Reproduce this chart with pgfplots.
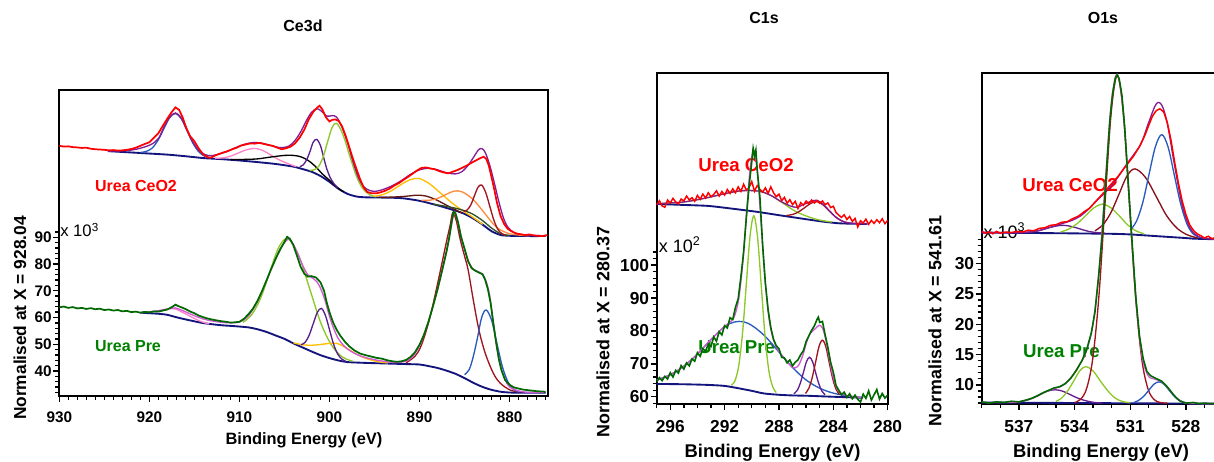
\documentclass[border=0pt]{standalone}
\usepackage{pgfplots}
\pgfplotsset{compat=1.18}
\usepackage{fontspec}
\setmainfont{Liberation Sans}
\setsansfont{Liberation Sans}
\definecolor{cRed}{RGB}{255,0,0}
\definecolor{cNavy}{RGB}{20,20,125}
\definecolor{cPurp}{RGB}{130,30,150}
\definecolor{cMag}{RGB}{210,90,210}
\definecolor{cDG}{RGB}{0,105,0}
\definecolor{cLbl}{RGB}{0,128,0}
\definecolor{cBlue}{RGB}{40,90,190}
\definecolor{cPink}{RGB}{255,130,200}
\definecolor{cIndigo}{RGB}{90,30,140}
\definecolor{cYG}{RGB}{140,200,40}
\definecolor{cGold}{RGB}{255,190,0}
\definecolor{cOrange}{RGB}{255,140,60}
\definecolor{cBrown}{RGB}{160,20,30}
\definecolor{cDBrown}{RGB}{100,25,20}
\definecolor{cOlive}{RGB}{50,80,40}
\pgfplotsset{
 xps/.style={
  scale only axis, x dir=reverse, clip=true,
  axis line style={line width=1.4pt, black},
  tick style={line width=1pt, black},
  tick align=outside, xtick pos=left, ytick pos=left,
  major tick length=4.5pt, minor tick length=3pt,
  /pgf/number format/assume math mode=true,
  /pgf/number format/1000 sep={},
  xticklabel style={yshift=-4pt},
  yticklabel style={inner xsep=1pt},
  every axis plot/.append style={line width=1pt, mark=none},
 },
 comp/.style={smooth, tension=0.55, line width=1pt},
 raw/.style={line width=1.3pt},
 bg/.style={smooth, tension=0.4, line width=1.4pt, cNavy},
}
\begin{document}
\begin{tikzpicture}
\useasboundingbox (0,0) rectangle (910.5pt,345.75pt);
% ---- text nodes (drawn first, curves above) ----
\node[font=\fontsize{12}{14}\selectfont\bfseries] at (227.25pt,326.25pt) {Ce3d};
\node[font=\fontsize{12}{14}\selectfont\bfseries] at (573pt,332.25pt) {C1s};
\node[font=\fontsize{12}{14}\selectfont\bfseries] at (827.25pt,332.25pt) {O1s};
\node[font=\fontsize{12.3}{14}\selectfont\bfseries] at (228pt,15.75pt) {Binding Energy (eV)};
\node[font=\fontsize{13}{15}\selectfont\bfseries,rotate=90] at (15pt,107.25pt) {Normalised at X = 928.04};
\node[font=\fontsize{13.8}{15}\selectfont\bfseries] at (579.45pt,6pt) {Binding Energy (eV)};
\node[font=\fontsize{13.4}{15}\selectfont\bfseries,rotate=90] at (452.25pt,96.75pt) {Normalised at X = 280.37};
\node[font=\fontsize{13.8}{15}\selectfont\bfseries] at (825.75pt,6pt) {Binding Energy (eV)};
\node[font=\fontsize{13.4}{15}\selectfont\bfseries,rotate=90] at (701.25pt,105pt) {Normalised at X = 541.61};
\node[font=\fontsize{12}{14}\selectfont\bfseries,text=cRed] at (102pt,206.25pt) {Urea CeO2};
\node[font=\fontsize{12}{14}\selectfont\bfseries,text=cLbl] at (96pt,86.25pt) {Urea Pre};
\node[font=\fontsize{14}{16}\selectfont\bfseries,text=cRed] at (559.5pt,222pt) {Urea CeO2};
\node[font=\fontsize{14}{16}\selectfont\bfseries,text=cLbl] at (552.5pt,85.7pt) {Urea Pre};
\node[font=\fontsize{14}{16}\selectfont\bfseries,text=cRed] at (802.5pt,207pt) {Urea CeO2};
\node[font=\fontsize{14}{16}\selectfont\bfseries,text=cLbl] at (796.1pt,82pt) {Urea Pre};
\node[font=\fontsize{12.5}{14}\selectfont,anchor=west,inner sep=0pt] at (45pt,173.25pt) {x 10\textsuperscript{3}};
\node[font=\fontsize{13.5}{15}\selectfont,anchor=west,inner sep=0pt] at (494pt,162pt) {x 10\textsuperscript{2}};
\node[font=\fontsize{13.5}{15}\selectfont,anchor=west,inner sep=0pt] at (737.5pt,172.7pt) {x 10\textsuperscript{3}};

% ================= Ce3d =================
\begin{axis}[xps, at={(44.475pt,48.75pt)}, anchor=south west,
  width=366.75pt, height=229.5pt,
  xmin=875.7, xmax=930, ymin=30.6, ymax=145.2,
  xtick={880,890,900,910,920,930}, minor xtick={876,877,...,930},
  ytick={40,50,60,70,80,90}, minor ytick={32,34,...,92},
  ticklabel style={font=\fontsize{11.5}{13}\selectfont\bfseries}]
% upper background
\addplot[bg] coordinates {(924.6,122.3)(922,121.8)(920,121.4)(918,121.0)(916,120.4)(914,119.7)(912,119.3)(910,118.8)(908,118.2)(906,117.5)(904,116.5)(903,115.6)(902,114.6)(901,113.0)(900,110.8)(899,108.2)(898,106.3)(897,105.3)(896,105.0)(894,104.9)(892,104.7)(890,103.7)(888,102.0)(886,100.0)(885,98.8)(884,97.0)(883,94.8)(882,92.3)(881,90.9)(880,90.6)(878,90.5)(876,90.5)};
\addplot[comp,cBlue] coordinates {(921.0,121.8)(920.35,122.2)(919.7,123.4)(919.05,126.3)(918.4,130.6)(917.75,134.8)(917.1,136.4)(916.45,134.4)(915.8,129.8)(915.15,125.2)(914.5,122.0)(913.85,120.4)(913.2,119.8)};
\addplot[comp,cPink] coordinates {(912.7,119.6)(911.8,119.8)(910.9,120.5)(910.0,121.8)(909.1,122.9)(908.2,123.3)(907.3,122.4)(906.4,120.6)(905.5,118.9)(904.6,117.6)(903.7,116.5)};
\addplot[comp,black] coordinates {(911,119.2)(909.5,119.2)(908,119.4)(906.5,120.1)(905,120.7)(904,120.7)(903.2,120.2)(902.4,118.9)(901.6,116.7)(900.8,113.8)(900,111.4)(899.2,108.9)(898.4,107.0)};
\addplot[comp,cIndigo] coordinates {(903.3,116.5)(902.9,117.2)(902.5,119.3)(902.15,122.3)(901.8,125.7)(901.4,126.7)(901.0,124.4)(900.65,120.0)(900.3,115.7)(899.9,112.3)(899.5,110.1)(899.1,108.6)};
\addplot[comp,cYG] coordinates {(902.2,115.1)(901.7,115.3)(901.2,116.6)(900.7,120.1)(900.2,125.9)(899.7,131.2)(899.2,132.7)(898.5,128.5)(897.75,120.5)(897.0,112.9)(896.3,108.3)(895.5,105.9)(894.8,105.2)};
\addplot[comp,cGold] coordinates {(895.1,105.4)(894.1,106.0)(893.1,107.5)(892.1,109.7)(891.1,111.5)(890.1,112.1)(888.9,110.1)(887.7,106.7)(886.5,103.2)(885.3,100.2)(884.1,97.6)(883.0,94.9)};
\addplot[comp,cDBrown] coordinates {(894.5,105.0)(893,105.1)(891.5,105.4)(890.3,105.8)(889.3,105.5)(888.3,104.3)(887.3,102.6)(886.3,100.8)(885.3,99.2)};
\addplot[comp,cOrange] coordinates {(889.8,103.9)(888.9,103.9)(888.0,104.6)(887.1,106.0)(886.2,107.3)(885.3,107.1)(884.05,104.2)(882.8,99.2)(881.55,94.1)(880.3,91.7)(879.05,90.9)(877.8,90.6)};
\addplot[comp,cOlive] coordinates {(888.5,102.4)(887,101.6)(885.5,100.5)(884.2,98.9)(883,96.3)(882,93.5)(881,91.4)(880,90.7)};
\addplot[comp,cBrown] coordinates {(885.1,99.7)(884.7,100.3)(884.3,102.2)(883.9,105.6)(883.5,108.8)(883.1,109.6)(882.65,106.8)(882.2,101.7)(881.75,96.5)(881.3,93.0)(880.85,91.4)(880.4,90.7)};
\addplot[comp,cPurp] coordinates {(924.6,122.3)(922,122.7)(920,124.5)(919,127.0)(918.4,131.2)(917.75,135.0)(917.1,136.6)(916.45,134.7)(915.8,130.2)(915.15,125.6)(914.5,122.5)(913.8,121.0)(913.2,120.6)(912.5,121.0)(911.5,122.0)(910.5,123.5)(909.5,124.8)(908.5,125.5)(907.5,125.3)(906.5,124.4)(905.5,123.6)(904.5,124.2)(903.8,126.4)(903.2,129.5)(902.6,133.5)(902.0,136.8)(901.4,138.2)(900.9,137.3)(900.3,135.4)(899.7,135.6)(899.2,135.0)(898.6,131.2)(898.0,125.5)(897.4,118.5)(896.8,112.5)(896.2,109.0)(895.5,107.5)(894.8,107.3)(894,108.0)(893,109.4)(892,111.3)(891,113.6)(890,115.3)(889,115.9)(888,115.3)(887,114.2)(886,113.8)(885.3,114.6)(884.6,117.0)(884,120.0)(883.5,122.6)(883.1,123.3)(882.7,121.8)(882.2,117.0)(881.7,110.5)(881.2,103.5)(880.7,97.5)(880.2,93.9)(879.5,91.8)(878.5,91.0)(877,90.7)(876.2,90.6)};
\addplot[raw,cRed] coordinates {(930,124.3)(929.5,124.0)(929,124.1)(928.5,123.8)(928,123.7)(927.5,123.5)(927,123.6)(926.5,123.2)(926,123.0)(925.5,122.9)(925,122.8)(924.5,122.6)(924,122.7)(923.5,122.5)(923,122.6)(922.5,122.8)(922,123.1)(921.5,123.6)(921,124.3)(920.5,125.0)(920,125.6)(919.5,127.3)(919,129.0)(918.5,131.8)(918,134.5)(917.5,137.0)(917.1,138.7)(916.7,137.8)(916.3,134.9)(915.9,131.0)(915.5,128.0)(915,126.0)(914.5,123.2)(914,121.0)(913.5,120.0)(913.2,119.8)(912.8,120.5)(912.3,121.2)(911.8,121.8)(911.3,122.3)(910.8,123.0)(910.3,123.6)(909.8,124.4)(909.3,124.8)(908.8,125.2)(908.3,125.1)(907.8,125.4)(907.3,125.0)(906.8,124.6)(906.3,124.3)(905.8,123.6)(905.3,123.0)(904.8,123.4)(904.3,124.0)(903.8,125.3)(903.3,127.4)(902.8,130.3)(902.3,134.2)(901.8,137.0)(901.4,138.5)(901.1,139.3)(900.8,138.0)(900.4,135.0)(900.0,133.4)(899.7,134.0)(899.4,134.2)(899.0,133.7)(898.6,131.6)(898.2,128.0)(897.8,123.8)(897.4,119.5)(897.0,115.6)(896.6,111.8)(896.2,108.7)(895.8,107.0)(895.3,106.5)(894.8,106.5)(894.3,106.9)(893.8,107.5)(893.3,108.3)(892.8,109.4)(892.3,110.3)(891.8,111.5)(891.3,112.6)(890.8,113.8)(890.3,115.0)(889.8,116.0)(889.3,116.2)(888.8,115.8)(888.3,115.5)(887.8,114.8)(887.3,114.3)(886.8,114.0)(886.3,114.6)(885.8,115.2)(885.3,116.0)(884.8,116.8)(884.3,117.8)(883.8,118.7)(883.3,119.6)(882.9,120.2)(882.6,119.5)(882.3,116.8)(882.0,112.5)(881.7,108.0)(881.4,103.0)(881.0,98.0)(880.6,95.0)(880.2,93.2)(879.8,92.3)(879.3,91.5)(878.8,91.2)(878.3,90.9)(877.8,91.1)(877.3,90.7)(876.8,90.6)(876.3,90.5)(875.8,90.9)};
% lower
\addplot[bg] coordinates {(921,61.8)(919,61.4)(918,61.0)(917,60.1)(916,59.3)(914,57.9)(912,57.1)(910.7,56.8)(909,56.3)(908,55.6)(907,54.6)(906,53.3)(905,52.0)(904,50.3)(903,48.8)(902,47.3)(901,45.9)(900,44.8)(899,43.9)(898,43.3)(896,43.0)(894,42.8)(892,42.6)(890,42.4)(889,41.8)(888,41.1)(887,40.1)(886,38.9)(885,37.3)(884,35.5)(883,34.0)(882,32.9)(881,32.2)(880,31.9)(878,31.8)(876,31.8)};
\addplot[comp,cPink] coordinates {(920.85,61.9)(920.1,62.0)(919.35,62.3)(918.6,62.8)(917.85,63.3)(917.1,63.2)(916.35,62.0)(915.6,60.7)(914.85,59.4)(914.1,58.3)(913.35,57.6)};
\addplot[comp,cYG] coordinates {(909.6,58.2)(908.6,61.2)(907.6,67.6)(906.6,77.3)(905.6,86.5)(904.6,89.5)(903.4,83.1)(902.2,70.8)(901.0,58.3)(899.8,49.8)(898.6,45.3)(897.4,43.6)};
\addplot[comp,cGold] coordinates {(904,50.5)(903,49.8)(902,49.6)(901,49.9)(900,50.3)(899.2,50.3)(898.5,49.3)(897.5,47.3)(896.5,45.4)(895.5,44.2)(894.5,43.4)(893.5,43.0)};
\addplot[comp,cIndigo] coordinates {(903.15,49.8)(902.7,50.7)(902.25,53.4)(901.8,57.7)(901.35,61.9)(900.9,63.4)(900.45,60.8)(900.0,55.5)(899.55,50.1)(899.1,46.4)(898.65,44.5)(898.2,43.6)};
\addplot[comp,cBrown] coordinates {(891.5,43.0)(890.5,45.5)(889.9,48.8)(889.3,54.5)(888.7,62.0)(888.1,71.0)(887.5,80.5)(887.0,88.5)(886.6,94.5)(886.3,99.3)(885.9,96.0)(885.5,89.5)(885.0,83.0)(884.6,77.8)(884.0,66.0)(883.4,55.3)(882.7,46.6)(881.8,39.1)(881.0,35.3)(879.9,32.8)(878.8,32.1)};
\addplot[comp,cBlue] coordinates {(885.0,38.6)(884.5,40.4)(884.05,45.1)(883.55,52.6)(883.1,60.0)(882.6,62.8)(882.0,59.0)(881.4,50.2)(880.8,41.6)(880.2,36.0)(879.6,33.2)(879.0,32.1)};
\addplot[comp,cMag] coordinates {(921,61.8)(919.5,62.3)(918.5,62.8)(917.5,63.5)(917.1,63.6)(916.3,62.6)(915.5,61.4)(914.5,60.0)(913.5,59.0)(912,58.2)(911,58.0)(910,58.3)(909,60.6)(908,65.9)(907,73.7)(906,81.8)(905.5,85.6)(905,88.0)(904.6,89.3)(904.2,88.5)(903.6,84.5)(903,79.7)(902.4,76.0)(901.8,74.6)(901.4,73.4)(901,71.0)(900.5,66.5)(900,60.5)(899.5,55.6)(899,52.0)(898.5,49.8)(898,48.2)(897,46.2)(896,45.0)(895,44.2)(894,43.6)(893,43.2)(892,43.3)(891,44.6)(890,49.5)(889,58.5)(888,70.5)(887,84.6)(886.5,93.5)(886.2,98.6)(885.9,97.8)(885.5,92.2)(885,85.5)(884.5,80.5)(884,78.0)(883.5,77.2)(883,76.2)(882.6,73.5)(882.2,68.0)(881.8,58.0)(881.4,48.5)(881,41.5)(880.5,36.8)(880,34.0)(879,32.5)(878,32.0)(876.2,31.9)};
\addplot[raw,cDG] coordinates {(930,63.8)(929.5,64.1)(929,63.6)(928.5,63.9)(928,63.4)(927.5,63.6)(927,63.2)(926.5,63.5)(926,63.1)(925.5,63.3)(925,62.8)(924.5,63.0)(924,62.6)(923.5,62.8)(923,62.3)(922.5,62.5)(922,62.0)(921.5,62.2)(921,61.8)(920.5,62.1)(920,61.9)(919.5,62.3)(919,62.2)(918.5,62.6)(918,63.0)(917.5,63.9)(917.1,64.8)(916.8,64.3)(916.5,63.9)(916,63.2)(915.5,62.3)(915,61.6)(914.5,60.7)(914,60.1)(913.5,59.6)(913,59.2)(912.5,58.9)(912,58.6)(911.5,58.4)(911,58.1)(910.5,58.2)(910,58.4)(909.5,59.5)(909,61.2)(908.5,63.3)(908,66.2)(907.5,69.8)(907,73.8)(906.5,78.0)(906,81.8)(905.5,85.3)(905,88.3)(904.7,90.2)(904.4,89.5)(904,87.0)(903.6,83.0)(903.2,79.0)(902.8,76.4)(902.4,75.3)(902,75.5)(901.5,75.0)(901,73.2)(900.6,70.0)(900.3,65.6)(900,62.0)(899.6,58.2)(899.2,55.4)(898.8,53.2)(898.3,51.0)(897.8,49.2)(897.2,47.6)(896.6,46.5)(896,45.9)(895.4,45.4)(894.8,44.9)(894.2,44.6)(893.6,44.0)(893,43.6)(892.5,43.4)(892,43.6)(891.5,44.1)(891,45.2)(890.5,47.0)(890,49.8)(889.5,53.6)(889,58.5)(888.5,64.3)(888,70.5)(887.5,77.5)(887,84.8)(886.7,90.0)(886.4,96.5)(886.2,99.6)(886,99.0)(885.7,95.4)(885.4,90.3)(885,85.8)(884.6,81.0)(884.2,78.4)(883.8,77.5)(883.4,76.8)(883,76.2)(882.7,74.0)(882.4,70.5)(882.1,65.3)(881.8,57.8)(881.5,50.8)(881.2,44.6)(880.9,40.3)(880.5,36.6)(880,34.8)(879.5,33.8)(879,33.4)(878.5,33.0)(878,32.8)(877.5,32.6)(877,32.4)(876.5,32.3)(876,32.2)};
\end{axis}

% ================= C1s =================
\begin{axis}[xps, at={(492.5pt,42.5pt)}, anchor=south west,
  width=173.25pt, height=248.25pt,
  xmin=280, xmax=297, ymin=57.7, ymax=158.3,
  xtick={280,284,288,292,296}, minor xtick={280,281,...,297},
  ytick={60,70,80,90,100}, minor ytick={58,60,...,104},
  ticklabel style={font=\fontsize{13}{15}\selectfont\bfseries}]
\addplot[bg] coordinates {(297,118.6)(295,118.3)(293.2,118.0)(291.5,117.2)(289.6,116.2)(287.7,115.0)(285.9,113.9)(284.7,113.2)(283.5,112.7)(281.5,112.5)};
\addplot[comp,cYG] coordinates {(296.5,118.8)(295,119.2)(293.5,120.3)(292,121.7)(290.8,122.6)(289.5,122.5)(288.6,121.2)(287.7,118.8)(286.8,116.4)(285.9,114.8)(285.0,113.7)(284.1,113.1)};
\addplot[comp,cBrown] coordinates {(287.45,115.1)(287.0,115.4)(286.55,116.2)(286.1,117.5)(285.65,118.8)(285.2,119.3)(284.75,118.3)(284.3,116.5)(283.85,114.7)(283.4,113.5)(282.95,112.9)};
\addplot[comp,cPurp] coordinates {(297,118.6)(296.5,118.8)(295,119.2)(293.5,120.3)(292,121.7)(290.8,122.6)(289.5,122.5)(288.6,121.2)(287.7,119.0)(286.8,117.6)(286.1,118.6)(285.65,119.4)(285.2,119.7)(284.75,118.5)(284.3,116.6)(283.85,114.7)(283.4,113.5)(282.95,112.9)(281.5,112.5)};
\addplot[raw,cRed,line width=1.1pt] coordinates {(297.0,118.3)(296.8,119.6)(296.6,118.0)(296.4,117.6)(296.2,119.8)(296.0,118.9)(295.8,120.3)(295.6,119.2)(295.4,118.6)(295.2,120.1)(295.0,119.5)(294.8,121.0)(294.6,119.8)(294.4,120.5)(294.2,119.4)(294.0,121.2)(293.8,120.0)(293.6,121.6)(293.4,120.4)(293.2,122.0)(293.0,120.8)(292.8,121.5)(292.6,122.6)(292.4,121.0)(292.2,122.4)(292.0,121.3)(291.8,123.0)(291.6,121.8)(291.4,123.2)(291.2,122.0)(291.0,123.8)(290.8,122.4)(290.6,124.6)(290.4,122.8)(290.2,123.6)(290.0,125.4)(289.8,122.5)(289.6,124.2)(289.4,123.0)(289.2,122.2)(289.0,123.5)(288.8,121.8)(288.6,123.8)(288.4,122.0)(288.2,120.8)(288.0,121.6)(287.8,119.6)(287.6,120.6)(287.4,118.8)(287.2,119.9)(287.0,118.4)(286.8,119.4)(286.6,117.2)(286.4,119.0)(286.2,118.2)(286.0,119.5)(285.8,118.6)(285.6,119.8)(285.4,118.9)(285.2,119.6)(285.0,118.8)(284.8,119.5)(284.6,118.4)(284.4,118.9)(284.2,117.5)(284.0,117.9)(283.8,116.0)(283.6,115.2)(283.4,114.5)(283.2,115.3)(283.0,113.9)(282.8,114.8)(282.6,113.3)(282.4,114.2)(282.2,111.6)(282.0,113.5)(281.8,112.8)(281.6,114.0)(281.4,112.4)(281.2,113.6)(281.0,112.7)(280.8,113.8)(280.6,112.9)(280.4,114.1)(280.2,112.6)(280.0,113.6)};
\addplot[bg] coordinates {(297,63.9)(295,63.8)(293.2,63.6)(292,63.3)(291,62.6)(290,61.8)(289.1,61.0)(288,60.6)(287,60.4)(285.9,60.3)(284,60.0)(282.5,59.8)(281.8,59.7)};
\addplot[comp,cBlue] coordinates {(297,65.1)(296,66.7)(295,69.3)(294,73.0)(293,77.4)(292,81.3)(291.3,82.7)(290.6,82.8)(289.9,81.4)(289,78.3)(288,73.6)(287,68.9)(286,65.1)(285,62.6)(284,61.1)(283,60.3)(282,59.8)};
\addplot[comp,cYG] coordinates {(291.5,63.5)(291.225,65.0)(290.95,69.7)(290.675,79.6)(290.4,94.4)(290.125,108.9)(289.85,115.0)(289.575,108.5)(289.3,93.6)(289.025,78.4)(288.75,68.1)(288.475,63.2)(288.2,61.3)};
\addplot[comp,cIndigo!80!cPurp] coordinates {(286.9,60.9)(286.65,62.0)(286.43,64.1)(286.2,67.4)(285.98,70.6)(285.75,72.0)(285.52,70.6)(285.3,67.3)(285.07,64.0)(284.85,61.8)(284.6,60.6)};
\addplot[comp,cBrown] coordinates {(286.05,61.0)(285.8,62.6)(285.55,65.9)(285.3,70.6)(285.05,75.3)(284.8,77.2)(284.55,75.2)(284.3,70.4)(284.05,65.6)(283.8,62.3)(283.55,60.7)};
\addplot[comp,cMag] coordinates {(297,65.1)(296,66.7)(295,69.3)(294,73.0)(293,77.4)(292,81.4)(291.5,83.0)(291.225,85.1)(290.95,90.1)(290.675,100.2)(290.4,114.9)(290.125,129.2)(289.85,134.8)(289.575,127.7)(289.3,111.9)(289.025,95.8)(288.75,84.4)(288.475,78.3)(288.2,75.2)(287.9,73.1)(287.5,71.2)(287.0,68.9)(286.65,69.1)(286.43,70.6)(286.2,73.2)(285.98,76.4)(285.75,78.9)(285.52,80.0)(285.3,80.8)(285.05,81.7)(284.8,80.9)(284.55,77.3)(284.3,71.8)(284.05,66.7)(283.8,63.2)(283.55,61.4)(283.0,60.3)(282.0,59.8)(281.8,59.7)};
\addplot[raw,cDG,line width=1.2pt] coordinates {(297.0,64.5)(296.8,65.8)(296.6,64.9)(296.4,66.2)(296.2,65.4)(296.0,67.3)(295.8,66.0)(295.6,68.0)(295.4,67.2)(295.2,69.5)(295.0,68.4)(294.8,70.3)(294.6,69.4)(294.4,71.5)(294.2,70.8)(294.0,73.4)(293.8,72.3)(293.6,74.6)(293.4,73.9)(293.2,76.0)(293.0,75.3)(292.8,78.2)(292.6,76.9)(292.4,79.8)(292.2,78.8)(292.0,81.6)(291.8,80.9)(291.6,84.0)(291.4,83.5)(291.2,87.2)(291.0,89.8)(290.8,96.5)(290.6,104.0)(290.4,114.5)(290.2,124.0)(290.0,131.5)(289.9,135.5)(289.8,133.2)(289.7,135.0)(289.6,129.0)(289.4,120.5)(289.2,106.0)(289.0,94.5)(288.8,86.5)(288.6,81.0)(288.4,77.5)(288.2,75.5)(288.0,74.6)(287.8,72.0)(287.6,71.8)(287.4,70.3)(287.2,71.2)(287.0,69.4)(286.8,70.5)(286.6,71.2)(286.4,72.8)(286.2,74.0)(286.0,76.8)(285.8,78.5)(285.6,80.2)(285.4,81.5)(285.2,83.5)(285.1,84.2)(285.0,82.6)(284.8,82.9)(284.6,78.8)(284.4,75.0)(284.2,70.5)(284.0,67.5)(283.8,63.4)(283.6,62.0)(283.4,60.6)(283.2,61.4)(283.0,59.8)(282.8,60.9)(282.6,59.4)(282.4,60.5)(282.2,59.2)(282.0,58.4)(281.8,60.8)(281.6,59.5)(281.4,61.8)(281.2,59.0)(281.0,60.6)(280.8,62.2)(280.6,59.3)(280.4,61.0)(280.2,59.6)(280.0,60.5)};
\end{axis}

% ================= O1s =================
\begin{axis}[xps, at={(736.3pt,42.75pt)}, anchor=south west,
  width=175.4pt, height=248pt,
  xmin=526.4, xmax=539, ymin=6.85, ymax=61.35,
  xtick={528,531,534,537}, minor xtick={527,528,...,539},
  ytick={10,15,20,25,30}, minor ytick={7,8,...,34},
  ticklabel style={font=\fontsize{13}{15}\selectfont\bfseries}]
\addplot[bg] coordinates {(539,35.1)(535,35.0)(532,34.9)(531,34.8)(530,34.6)(529,34.4)(528,34.2)(527.6,34.1)(526.4,34.0)};
\addplot[comp,cIndigo!70!cPurp] coordinates {(537.2,35.05)(536.85,35.1)(536.4,35.2)(535.95,35.4)(535.5,35.8)(535.05,36.15)(534.6,36.3)(534.15,36.1)(533.7,35.7)(533.25,35.3)(532.8,35.1)(532.35,35.0)};
\addplot[comp,cYG] coordinates {(534.75,35.2)(534.3,35.7)(533.85,36.6)(533.4,37.9)(532.95,39.2)(532.5,39.8)(532.05,39.2)(531.6,37.9)(531.15,36.4)(530.7,35.4)(530.25,34.9)};
\addplot[comp,cBrown!85!black] coordinates {(532.9,35.4)(532.47,36.4)(532.04,38.4)(531.61,41.4)(531.18,44.4)(530.75,45.6)(530.18,44.2)(529.61,41.1)(529.04,37.9)(528.47,35.8)(527.9,34.7)(527.33,34.2)};
\addplot[comp,cBlue] coordinates {(531.0,35.5)(530.66,37.0)(530.32,40.1)(529.98,44.8)(529.64,49.3)(529.3,51.25)(528.96,49.2)(528.62,44.5)(528.28,39.8)(527.94,36.5)(527.6,34.85)(527.26,34.3)};
\addplot[comp,cPurp] coordinates {(539,35.1)(538,35.1)(537.5,35.05)(537,35.1)(536.4,35.2)(535.95,35.4)(535.5,35.8)(535.05,36.2)(534.6,36.65)(534.15,37.1)(533.7,37.8)(533.25,38.95)(532.8,40.4)(532.35,41.7)(532.0,42.9)(531.6,44.5)(531.2,46.35)(530.8,48.0)(530.4,49.85)(530.0,53.3)(529.6,56.3)(529.3,56.1)(529.0,53.05)(528.6,46.0)(528.2,39.65)(527.8,36.0)(527.4,34.6)(527.0,34.15)(526.4,34.0)};
\addplot[raw,cRed,line width=1.1pt] coordinates {(539,35.3)(538.8,35.0)(538.6,35.2)(538.4,34.9)(538.2,35.3)(538,35.0)(537.7,35.2)(537.4,35.1)(537.1,35.3)(536.8,35.2)(536.5,35.5)(536.2,35.4)(535.9,35.8)(535.6,35.9)(535.3,36.3)(535,36.4)(534.7,36.8)(534.4,36.9)(534.1,37.4)(533.8,37.8)(533.5,38.5)(533.2,39.1)(532.9,40.1)(532.6,41.1)(532.3,42.1)(532.0,43.2)(531.7,44.2)(531.4,45.4)(531.1,46.6)(530.8,47.8)(530.5,49.3)(530.2,51.2)(530.0,52.8)(529.8,54.3)(529.6,55.2)(529.4,55.5)(529.2,55.0)(529.0,53.2)(528.8,50.3)(528.6,46.6)(528.4,43.2)(528.2,40.3)(528.0,38.1)(527.8,36.4)(527.6,35.5)(527.4,34.9)(527.2,34.6)(527.0,34.2)(526.8,34.5)(526.6,34.1)(526.4,34.3)};
% lower
\addplot[bg] coordinates {(539,7.1)(533,7.0)(526.4,6.9)};
\addplot[comp,cIndigo!70!cPurp] coordinates {(537.2,7.1)(536.75,7.35)(536.325,7.75)(535.9,8.35)(535.475,8.95)(535.05,9.2)(534.625,8.95)(534.2,8.35)(533.775,7.75)(533.35,7.35)(532.925,7.1)(532.5,7.0)};
\addplot[comp,cYG] coordinates {(535.0,7.3)(534.7,7.8)(534.375,9.0)(534.05,10.6)(533.725,12.3)(533.4,13.0)(533.0,12.3)(532.6,10.6)(532.2,9.0)(531.8,7.8)(531.4,7.25)(531.0,7.05)};
\addplot[comp,cBrown] coordinates {(534.0,7.1)(533.68,7.6)(533.35,9.4)(533.02,14.3)(532.69,24.5)(532.36,39.8)(532.03,54.7)(531.7,61.0)(531.37,54.7)(531.04,39.8)(530.71,24.5)(530.38,14.3)(530.05,9.4)(529.72,7.6)(529.39,7.1)(529.0,7.0)};
\addplot[comp,cBlue] coordinates {(530.8,7.1)(530.55,7.45)(530.28,8.1)(530.0,9.1)(529.73,10.1)(529.45,10.5)(529.17,10.1)(528.9,9.1)(528.62,8.1)(528.35,7.45)(528.1,7.1)(527.8,6.95)};
\addplot[comp,cMag] coordinates {(539,7.1)(538,7.1)(537.2,7.15)(536.75,7.35)(536.3,7.75)(535.9,8.35)(535.5,8.95)(535.05,9.45)(534.7,9.8)(534.375,10.6)(534.05,11.8)(533.725,13.4)(533.4,15.2)(533.02,19.8)(532.69,28.5)(532.36,42.4)(532.03,56.1)(531.7,61.2)(531.37,54.9)(531.04,39.9)(530.71,24.8)(530.38,15.1)(530.05,11.6)(529.72,11.0)(529.45,10.7)(529.17,10.2)(528.9,9.2)(528.62,8.2)(528.35,7.5)(528.1,7.1)(527.8,6.95)(526.4,6.9)};
\addplot[raw,cDG,line width=1.2pt] coordinates {(539,7.2)(538.6,7.0)(538.2,7.2)(537.8,7.1)(537.4,7.3)(537,7.2)(536.6,7.5)(536.3,7.8)(536,8.2)(535.7,8.7)(535.4,9.1)(535.1,9.5)(534.8,9.7)(534.5,10.2)(534.2,11.1)(533.9,12.4)(533.6,14.0)(533.35,15.8)(533.1,18.5)(532.9,22.0)(532.7,28.0)(532.5,35.0)(532.3,44.5)(532.1,53.5)(531.95,58.0)(531.8,60.6)(531.7,61.1)(531.6,60.5)(531.45,57.8)(531.3,52.5)(531.1,43.0)(530.9,33.5)(530.7,24.5)(530.5,18.0)(530.3,14.3)(530.1,12.2)(529.9,11.5)(529.7,11.2)(529.5,10.9)(529.3,10.6)(529.1,10.0)(528.9,9.3)(528.7,8.5)(528.5,7.8)(528.3,7.3)(528.1,7.1)(527.9,7.0)(527.6,7.1)(527.3,6.9)(527,7.0)(526.7,6.9)(526.4,7.0)};
\end{axis}
\end{tikzpicture}
\end{document}
